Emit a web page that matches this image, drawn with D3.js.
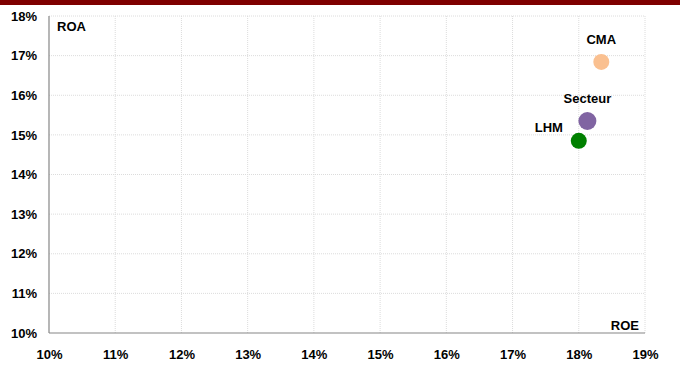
<!DOCTYPE html>
<html><head><meta charset="utf-8">
<script src="https://cdn.jsdelivr.net/npm/d3@7"></script>
<style>body{margin:0;background:#fff}svg{display:block}text{font-family:"Liberation Sans Narrow","Liberation Sans",Arial,sans-serif;font-weight:bold;fill:#000}</style>
</head><body>
<svg id="c" width="680" height="367"></svg>
<script>
const names = ["CMA", "Secteur", "LHM"];
const roe = [0.1834, 0.1813, 0.1800];
const roa = [0.1684, 0.1535, 0.1485];
const colors = ["#FAC090", "#8064A2", "#008000"];
const radii = [8, 9, 8];
const xTicks = [0.10,0.11,0.12,0.13,0.14,0.15,0.16,0.17,0.18,0.19];
const yTicks = [0.10,0.11,0.12,0.13,0.14,0.15,0.16,0.17,0.18];

const svg = d3.select("#c");
svg.append("rect").attr("x",0).attr("y",0).attr("width",680).attr("height",5).attr("fill","#7F0000");

const x = d3.scaleLinear().domain([0.10,0.19]).range([49,645]);
const y = d3.scaleLinear().domain([0.10,0.18]).range([333,16]);
const fmt = d3.format(".0%");

// gridlines
svg.append("g").selectAll("line").data(xTicks.slice(1)).join("line")
  .attr("x1",d=>x(d)).attr("x2",d=>x(d)).attr("y1",y(0.18)).attr("y2",y(0.10))
  .attr("stroke","#dcdcdc").attr("stroke-dasharray","1,1");
svg.append("g").selectAll("line").data(yTicks.slice(1)).join("line")
  .attr("x1",x(0.10)).attr("x2",x(0.19)).attr("y1",d=>y(d)).attr("y2",d=>y(d))
  .attr("stroke","#dcdcdc").attr("stroke-dasharray","1,1");

// axes
const xa = svg.append("g").attr("transform",`translate(0,${y(0.10)})`)
  .call(d3.axisBottom(x).tickValues(xTicks).tickFormat(fmt).tickSize(0).tickPadding(17));
xa.selectAll("text").attr("font-size",13);
const ya = svg.append("g").attr("transform",`translate(${x(0.10)},0)`)
  .call(d3.axisLeft(y).tickValues(yTicks).tickFormat(fmt).tickSize(0).tickPadding(12));
ya.selectAll("text").attr("font-size",13);
svg.selectAll(".domain").remove();
svg.append("line").attr("x1",x(0.10)).attr("x2",x(0.10)).attr("y1",y(0.18)).attr("y2",y(0.10)).attr("stroke","#868686").attr("stroke-width",1.2);
svg.append("line").attr("x1",x(0.10)).attr("x2",x(0.19)).attr("y1",y(0.10)).attr("y2",y(0.10)).attr("stroke","#868686").attr("stroke-width",1.2);

// axis titles
svg.append("text").attr("x",57).attr("y",31).attr("font-size",13).text("ROA");
svg.append("text").attr("x",639).attr("y",330).attr("text-anchor","end").attr("font-size",13).text("ROE");

// points
const idx = d3.range(names.length);
svg.append("g").selectAll("circle").data(idx).join("circle")
  .attr("cx",i=>x(roe[i])).attr("cy",i=>y(roa[i])).attr("r",i=>radii[i]).attr("fill",i=>colors[i]);

// labels
const lblDx = [0, 0, -30];
const lblDy = [-18, -18, -9];
svg.append("g").selectAll("text").data(idx).join("text")
  .attr("x",i=>x(roe[i])+lblDx[i]).attr("y",i=>y(roa[i])+lblDy[i])
  .attr("text-anchor","middle").attr("font-size",13).text(i=>names[i]);
</script>
</body></html>
